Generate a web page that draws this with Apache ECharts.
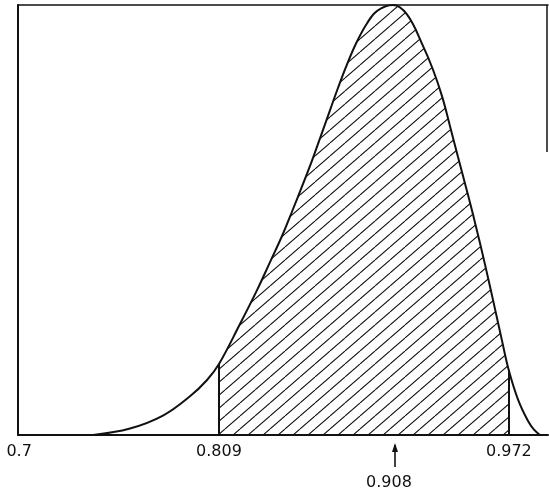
<!DOCTYPE html>
<html><head><meta charset="utf-8">
<script src="https://cdn.jsdelivr.net/npm/echarts@6/dist/echarts.min.js"></script>
<style>html,body{margin:0;padding:0;background:#fff}#c{width:549px;height:488px}</style>
</head><body><div id="c"></div>
<script>
// density curve (x value, relative height)
const curveX = [0.7382,0.759,0.7775,0.7927,0.8023,0.809,0.8208,0.8304,0.8377,0.845,0.8506,0.8557,0.8613,0.8658,0.8714,0.8759,0.881,0.8866,0.8922,0.8978,0.9068,0.9147,0.9237,0.9293,0.9344,0.9388,0.9433,0.9484,0.9529,0.9585,0.9641,0.9681,0.972,0.9771,0.9827,0.986,0.9895];
const curveY = [0,0.015,0.045,0.090,0.128,0.165,0.258,0.337,0.402,0.468,0.525,0.578,0.638,0.690,0.755,0.807,0.862,0.915,0.957,0.986,1.0,0.978,0.905,0.850,0.788,0.720,0.648,0.568,0.495,0.398,0.295,0.220,0.150,0.083,0.033,0.013,0];
const lowerBound = 0.809;
const upperBound = 0.972;
const markValue = 0.908;
const tickLabels = [0.7, 0.809, 0.972];
const xMin = 0.696, xMax = 0.994;

const full = curveX.map((x,i)=>[x,curveY[i]]);
const shaded = full.filter(p=>p[0]>=lowerBound-1e-9 && p[0]<=upperBound+1e-9);
const yAt = v => { const i = curveX.indexOf(v); return curveY[i]; };

// hatch pattern
const tw = 15, th = 13;
const cv = document.createElement('canvas');
cv.width = tw; cv.height = th;
const g = cv.getContext('2d');
g.strokeStyle = '#111'; g.lineWidth = 1.1;
g.beginPath();
g.moveTo(0,th); g.lineTo(tw,0);
g.moveTo(-tw,th); g.lineTo(0,0);
g.moveTo(tw,th); g.lineTo(2*tw,0);
g.stroke();

const chart = echarts.init(document.getElementById('c'));
const font = 'DejaVu Sans';
chart.setOption({
  animation:false,
  backgroundColor:'#fff',
  grid:{left:18,right:1,top:5,bottom:53},
  xAxis:[{
    type:'value',min:xMin,max:xMax,
    axisLine:{show:true,lineStyle:{color:'#111',width:2}},
    axisTick:{show:false},
    splitLine:{show:false},
    axisLabel:{
      customValues:tickLabels,
      margin:9,
      color:'#111',fontFamily:font,fontSize:16,
      formatter:v=> Math.abs(v-0.7)<1e-6 ? '{l|0.7}' : String(v),
      rich:{l:{fontFamily:font,fontSize:16,color:'#111',padding:[0,12,0,0]}}
    }
  },{
    type:'value',min:xMin,max:xMax,position:'top',
    axisLine:{show:true,lineStyle:{color:'#111',width:1.5}},
    axisTick:{show:false},axisLabel:{show:false},splitLine:{show:false}
  }],
  yAxis:{
    type:'value',min:0,max:1,
    axisLine:{show:true,lineStyle:{color:'#111',width:2}},
    axisTick:{show:false},axisLabel:{show:false},splitLine:{show:false}
  },
  series:[{
    type:'line',data:shaded,smooth:0.4,showSymbol:false,symbol:'none',
    lineStyle:{width:0},
    areaStyle:{color:{image:cv,repeat:'repeat'},opacity:1},
    markLine:{
      silent:true,symbol:'none',label:{show:false},
      lineStyle:{color:'#111',width:2,type:'solid'},
      data:[
        [{coord:[lowerBound,0]},{coord:[lowerBound,yAt(lowerBound)]}],
        [{coord:[upperBound,0]},{coord:[upperBound,yAt(upperBound)]}]
      ]
    },
    z:2
  },{
    type:'line',data:full,smooth:0.4,showSymbol:false,symbol:'none',
    lineStyle:{color:'#111',width:2},z:3
  }]
});

const p0 = chart.convertToPixel({gridIndex:0},[markValue,0]);
const rTop = chart.convertToPixel({gridIndex:0},[xMax,1]);
const rBot = chart.convertToPixel({gridIndex:0},[xMax,0.658]);
const ax = Math.round(p0[0]);
chart.setOption({graphic:[
  {type:'line',shape:{x1:ax,y1:p0[1]+10,x2:ax,y2:p0[1]+32},style:{stroke:'#111',lineWidth:1.6}},
  {type:'polygon',shape:{points:[[ax,p0[1]+8],[ax-3,p0[1]+17],[ax+3,p0[1]+17]]},style:{fill:'#111'}},
  {type:'text',x:ax-6,y:p0[1]+48,style:{text:String(markValue),font:'16px "DejaVu Sans"',fill:'#111',align:'center',verticalAlign:'middle'}},
  {type:'line',shape:{x1:rTop[0]-1,y1:rTop[1],x2:rTop[0]-1,y2:rBot[1]},style:{stroke:'#111',lineWidth:1.5}}
]});
</script></body></html>
